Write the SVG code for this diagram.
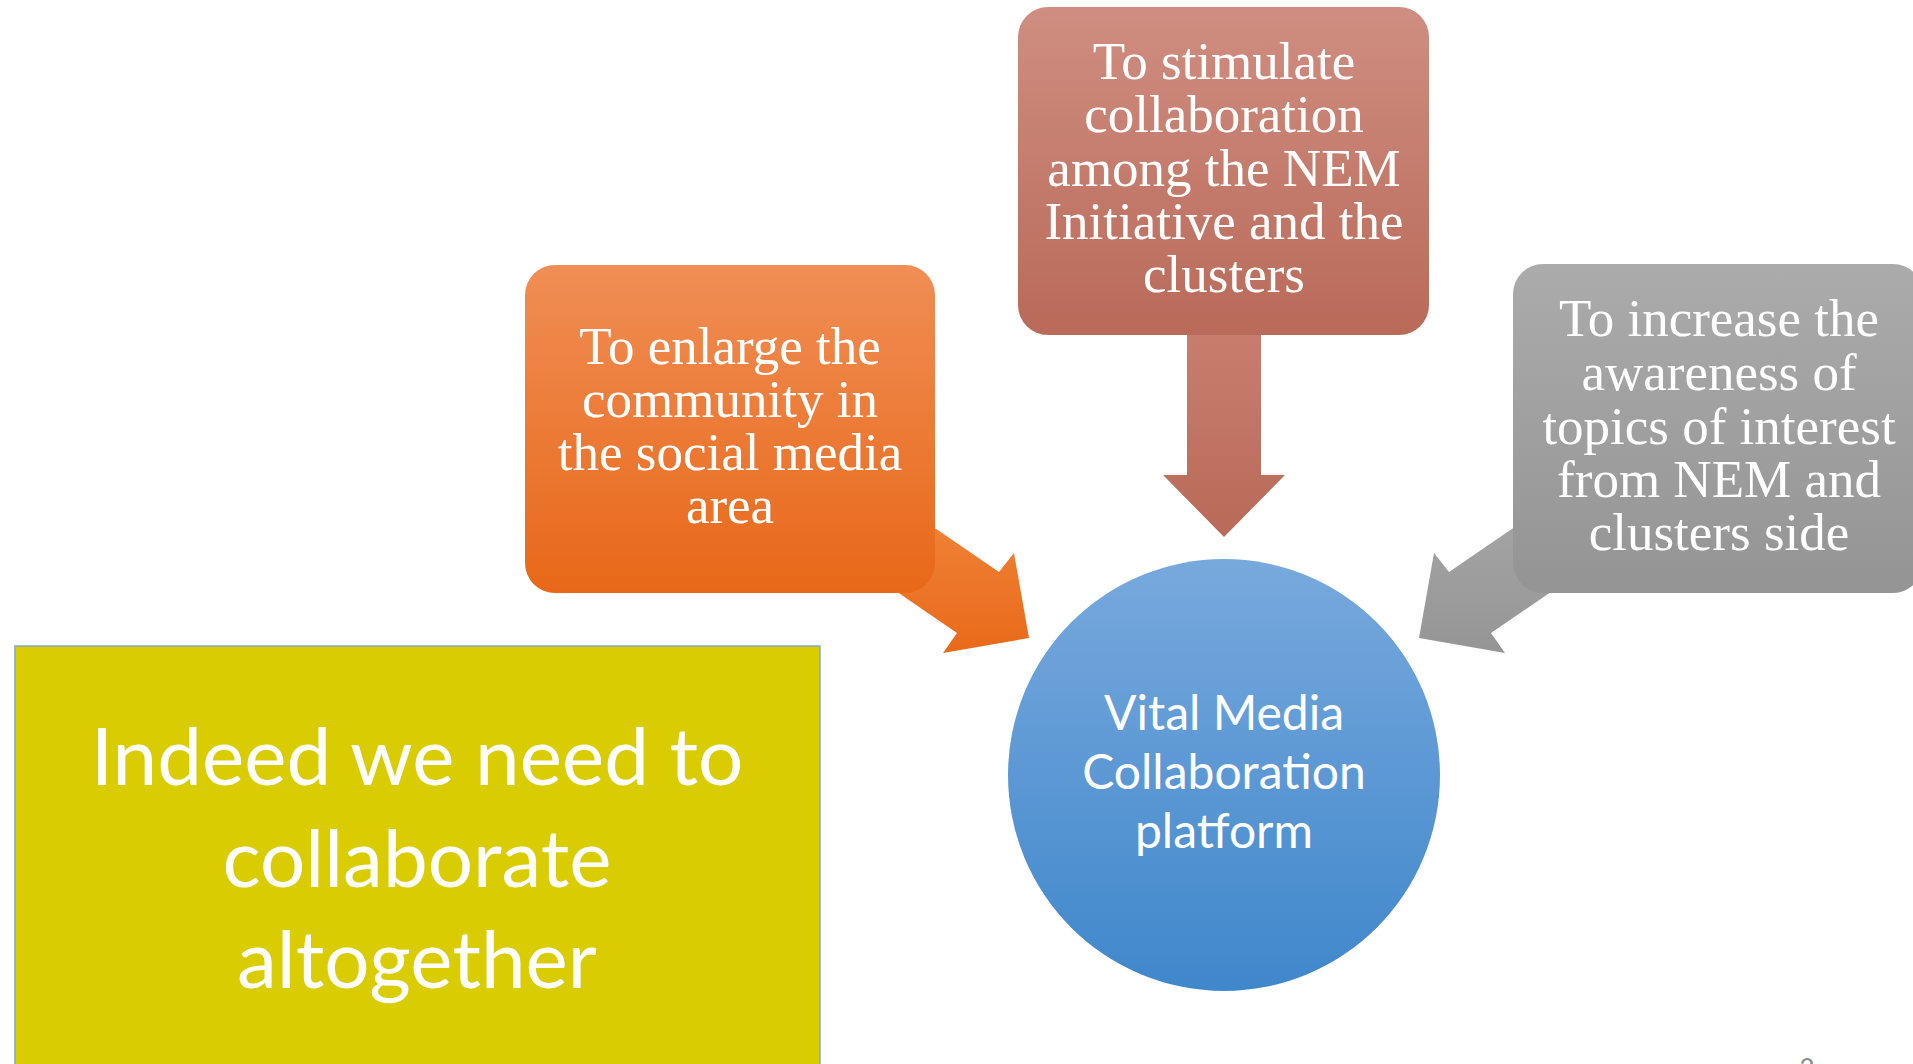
<svg xmlns="http://www.w3.org/2000/svg" width="1913" height="1064" viewBox="0 0 1913 1064">
<defs>
<linearGradient id="gOrange" x1="0" y1="0" x2="0" y2="1"><stop offset="0" stop-color="#F08E55"/><stop offset="1" stop-color="#E86818"/></linearGradient>
<linearGradient id="gOrangeArr" x1="0" y1="0" x2="0" y2="1"><stop offset="0" stop-color="#F3873C"/><stop offset="1" stop-color="#E86A1A"/></linearGradient>
<linearGradient id="gRed" x1="0" y1="0" x2="0" y2="1"><stop offset="0" stop-color="#CF8E81"/><stop offset="1" stop-color="#B96A59"/></linearGradient>
<linearGradient id="gRedArr" x1="0" y1="0" x2="0" y2="1"><stop offset="0" stop-color="#C97F6E"/><stop offset="1" stop-color="#B96A59"/></linearGradient>
<linearGradient id="gGray" x1="0" y1="0" x2="0" y2="1"><stop offset="0" stop-color="#ABABAB"/><stop offset="1" stop-color="#949494"/></linearGradient>
<linearGradient id="gGrayArr" x1="0" y1="0" x2="0" y2="1"><stop offset="0" stop-color="#A8A8A8"/><stop offset="1" stop-color="#959595"/></linearGradient>
<linearGradient id="gBlue" x1="0" y1="0" x2="0" y2="1"><stop offset="0" stop-color="#78A9DD"/><stop offset="1" stop-color="#3F87CB"/></linearGradient>
</defs>
<style>
.box{font-family:"Liberation Serif",serif;font-size:53px;fill:#FFFFFF;text-anchor:middle}
.sans{font-family:Lato,"Open Sans",sans-serif;fill:#FFFFFF;text-anchor:middle}
</style>
<rect width="1913" height="1064" fill="#FFFFFF"/>
<g id="connectors">
<polygon points="875,487 999,572 1014,553 1029,638 943,653 957,633 833,548" fill="url(#gOrangeArr)"/>
<polygon points="1573,487 1449,572 1434,553 1419,638 1505,653 1491,633 1615,548" fill="url(#gGrayArr)"/>
<polygon points="1187,320 1261,320 1261,475 1285,475 1224,537 1163,475 1187,475" fill="url(#gRedArr)"/>
</g>
<g id="node-orange">
<rect x="525" y="265" width="410" height="328" rx="30" fill="url(#gOrange)"/>
<text class="box" x="730" y="364">To enlarge the</text>
<text class="box" x="730" y="417">community in</text>
<text class="box" x="730" y="470">the social media</text>
<text class="box" x="730" y="523">area</text>
</g>
<g id="node-red">
<rect x="1018" y="7" width="411" height="328" rx="30" fill="url(#gRed)"/>
<text class="box" x="1224" y="79">To stimulate</text>
<text class="box" x="1224" y="132">collaboration</text>
<text class="box" x="1224" y="186">among the NEM</text>
<text class="box" x="1224" y="239">Initiative and the</text>
<text class="box" x="1224" y="292">clusters</text>
</g>
<g id="node-gray">
<rect x="1513" y="264" width="410" height="329" rx="30" fill="url(#gGray)"/>
<text class="box" x="1719" y="336">To increase the</text>
<text class="box" x="1719" y="390">awareness of</text>
<text class="box" x="1719" y="444">topics of interest</text>
<text class="box" x="1719" y="497">from NEM and</text>
<text class="box" x="1719" y="550">clusters side</text>
</g>
<g id="node-circle">
<circle cx="1224" cy="775" r="216" fill="url(#gBlue)"/>
<text class="sans" x="1224" y="730" font-size="48">Vital Media</text>
<text class="sans" x="1224" y="789" font-size="48">Collaboration</text>
<text class="sans" x="1224" y="848" font-size="48">platform</text>
</g>
<g id="node-yellow">
<rect x="15" y="646" width="805" height="440" fill="#D9CC00" stroke="#7FA8D0" stroke-width="1.5"/>
<text class="sans" x="417" y="785" font-size="80">Indeed we need to</text>
<text class="sans" x="417" y="887" font-size="80">collaborate</text>
<text class="sans" x="417" y="988" font-size="80">altogether</text>
</g>
<text x="1807" y="1078" font-family="Lato,sans-serif" font-size="26" fill="#8B8B8B" text-anchor="middle">2</text>
</svg>
